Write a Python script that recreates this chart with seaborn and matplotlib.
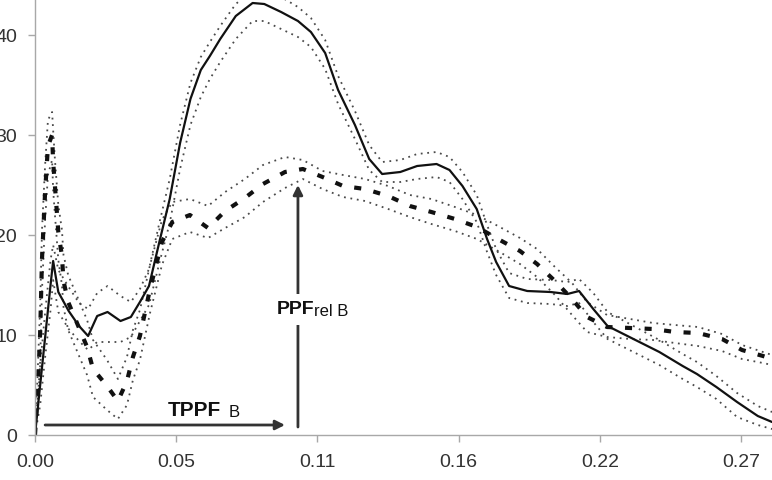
"""
Force profile: mean curves (solid A, dashed B) with dotted +/- SD bands
"""

import numpy as np
import matplotlib
matplotlib.use("Agg")
import matplotlib.pyplot as plt
import matplotlib.ticker as mticker
import seaborn as sns

# ---- data ----
# series A (solid line) : time [s], mean, upper SD, lower SD
a_x = [0.000, 0.002, 0.004, 0.006, 0.007, 0.009, 0.013, 0.017, 0.0205, 0.024,
       0.028, 0.033, 0.037, 0.0405, 0.044, 0.048, 0.052, 0.056, 0.060, 0.064,
       0.0675, 0.0715, 0.0775, 0.084, 0.0885, 0.095, 0.1015, 0.1065, 0.112, 0.117,
       0.1235, 0.129, 0.134, 0.141, 0.1475, 0.155, 0.160, 0.165, 0.1705, 0.1745,
       0.178, 0.183, 0.190, 0.199, 0.2055, 0.210, 0.2155, 0.221, 0.231, 0.241,
       0.250, 0.2555, 0.263, 0.271, 0.279, 0.2845]
a_mean = [0, 5, 10, 15, 17.4, 14.3, 12.4, 10.9, 9.9, 11.9,
          12.3, 11.4, 11.8, 13.3, 14.9, 19.3, 23.6, 29.2, 33.6, 36.5,
          37.9, 39.6, 41.9, 43.2, 43.1, 42.3, 41.4, 40.3, 38.2, 34.5,
          31.0, 27.6, 26.1, 26.3, 26.9, 27.1, 26.5, 24.9, 22.6, 19.6,
          17.3, 14.9, 14.4, 14.3, 14.1, 14.4, 12.6, 10.9, 9.6, 8.3,
          6.9, 6.1, 4.8, 3.3, 1.9, 1.3]
a_up = [0.3, 7, 12.5, 17.5, 19.0, 16.5, 14.8, 13.2, 12.6, 14.2,
        14.9, 13.9, 13.3, 14.6, 16.6, 21.2, 25.6, 31.0, 35.2, 37.8,
        39.3, 40.9, 43.1, 44.5, 44.6, 43.8, 42.8, 41.7, 39.5, 35.9,
        32.4, 29.0, 27.3, 27.5, 28.1, 28.3, 27.8, 26.3, 24.0, 21.0,
        18.6, 16.2, 15.6, 15.5, 15.3, 15.6, 14.2, 12.3, 10.9, 9.5,
        8.1, 7.3, 5.9, 4.2, 2.9, 2.3]
a_lo = [0, 3, 8, 12.5, 15.5, 12.3, 10.6, 9.4, 8.5, 9.3,
        9.3, 9.3, 9.8, 11.4, 13.0, 17.2, 21.2, 26.6, 31.0, 33.8,
        35.6, 37.3, 39.6, 41.4, 41.4, 40.6, 39.8, 38.8, 36.6, 33.1,
        29.6, 26.5, 25.3, 25.3, 25.6, 25.8, 25.3, 23.6, 21.3, 18.3,
        16.0, 13.7, 13.2, 13.1, 12.9, 13.2, 11.3, 9.6, 8.3, 7.0,
        5.6, 4.8, 3.6, 1.8, 1.0, 0.6]

# series B (thick dashed line)
b_x = [0.000, 0.001, 0.002, 0.0027, 0.0039, 0.005, 0.0066, 0.007, 0.0077, 0.009,
       0.0104, 0.011, 0.0128, 0.0201, 0.0224, 0.0278, 0.032, 0.0355, 0.0378, 0.0405,
       0.0444, 0.049, 0.053, 0.0598, 0.0668, 0.0734, 0.081, 0.088, 0.0965, 0.1034,
       0.111, 0.1189, 0.1274, 0.1363, 0.1447, 0.153, 0.1621, 0.1706, 0.1787, 0.1872,
       0.1938, 0.2007, 0.2073, 0.2131, 0.2208, 0.2297, 0.2386, 0.247, 0.2559, 0.2652,
       0.2729, 0.281, 0.2845]
b_mean = [0, 4, 10.3, 17.6, 24.3, 28.9, 30.0, 27.3, 24.9, 20.3,
          17.9, 15.4, 13.3, 8.8, 6.6, 4.9, 3.4, 5.4, 7.8, 9.9,
          14.6, 19.3, 21.3, 22.0, 20.7, 22.4, 23.7, 25.1, 26.3, 26.6,
          25.8, 24.9, 24.6, 23.9, 22.9, 22.3, 21.6, 20.8, 19.6, 18.4,
          17.1, 15.4, 13.6, 11.8, 10.8, 10.7, 10.6, 10.3, 10.2, 9.6,
          8.5, 7.9, 7.6]
b_up = [0.5, 6, 13, 20.5, 27, 31.5, 32.3, 30.5, 27.5, 23.0,
        20.5, 18.0, 16.0, 11.5, 9.5, 7.5, 5.6, 7.8, 10.5, 12.5,
        17.0, 21.5, 23.3, 23.6, 22.9, 24.3, 25.6, 27.0, 27.8, 27.5,
        26.4, 26.0, 25.6, 24.9, 24.0, 23.6, 22.8, 22.0, 20.9, 19.7,
        18.6, 16.8, 15.2, 13.3, 12.0, 11.6, 11.2, 11.0, 10.8, 10.1,
        9.0, 8.3, 8.0]
b_lo = [0, 2, 7.5, 14.5, 21.5, 26.0, 27.5, 24.5, 22.0, 17.5,
        15.0, 12.8, 10.5, 6.0, 3.8, 2.5, 1.6, 3.0, 5.5, 7.5,
        12.2, 17.0, 19.6, 20.3, 19.7, 20.7, 21.8, 23.3, 24.7, 25.6,
        24.6, 23.8, 23.4, 22.6, 21.8, 21.1, 20.4, 19.6, 18.4, 17.1,
        15.8, 14.0, 12.0, 10.3, 9.8, 9.6, 9.5, 9.2, 8.9, 8.4,
        7.6, 7.2, 7.0]

x_ticks = [0.0, 0.0545, 0.109, 0.1635, 0.218, 0.2725]
y_ticks = [0, 10, 20, 30, 40]

# annotation anchors (time to peak / relative peak of B)
tppf_start, tppf_end, tppf_y = 0.0039, 0.0965, 1.0
ppf_x, ppf_top = 0.1015, 25.0


sns.set_style("ticks")
plt.rcParams['font.family'] = ['Liberation Sans', 'DejaVu Sans']

fig = plt.figure(figsize=(7.72, 4.81), dpi=100)
# axes deliberately run past the top/right edges (the reference is a crop)
ax = fig.add_axes([35 / 772, 45 / 481, 750 / 772, 450 / 481])

dot = (0, (1.0, 2.6))
band_kw = dict(color='#4a4a4a', linewidth=1.3, linestyle=dot, ax=ax)

for band in (a_up, a_lo):
    sns.lineplot(x=a_x, y=band, **band_kw)
for band in (b_up, b_lo):
    sns.lineplot(x=b_x, y=band, **band_kw)

sns.lineplot(x=a_x, y=a_mean, color='#111111', linewidth=1.6, ax=ax)
sns.lineplot(x=b_x, y=b_mean, color='#111111', linewidth=3.0,
             linestyle=(0, (1.7, 3.0)), ax=ax)

# arrows
arrow_kw = dict(arrowstyle='-|>', color='#333333', lw=2.0, mutation_scale=14,
                shrinkA=0, shrinkB=0)
ax.annotate('', xy=(tppf_end, tppf_y), xytext=(tppf_start, tppf_y),
            arrowprops=arrow_kw)
ax.annotate('', xy=(ppf_x, ppf_top), xytext=(ppf_x, 0.8),
            arrowprops=arrow_kw)

# labels
ax.text(0.0513, 2.5, 'TPPF', fontsize=15, fontweight='bold',
        color='#111111', va='center', ha='left')
ax.text(0.0748, 2.35, 'B', fontsize=12, color='#111111',
        va='center', ha='left')
ax.text(0.0932, 12.6, 'PPF', fontsize=14, fontweight='bold', color='#111111',
        va='center', ha='left',
        bbox=dict(facecolor='white', edgecolor='none', pad=5))
ax.text(0.1077, 12.45, 'rel B', fontsize=12, color='#111111',
        va='center', ha='left')

ax.set_xlim(0, 0.2895)
ax.set_ylim(0, 45)
ax.set_xticks(x_ticks)
ax.xaxis.set_major_formatter(mticker.FormatStrFormatter('%.2f'))
ax.set_yticks(y_ticks)
ax.set_xlabel('')
ax.set_ylabel('')

for side in ('top', 'right'):
    ax.spines[side].set_visible(False)
for side in ('left', 'bottom'):
    ax.spines[side].set_color('#a8a8a8')
    ax.spines[side].set_linewidth(1.0)

ax.tick_params(axis='both', colors='#a8a8a8', length=5, width=1.0,
               labelsize=14, labelcolor='#333333')
ax.tick_params(axis='x', pad=8)
ax.tick_params(axis='y', pad=8)

fig.savefig('out.png', dpi=100)
plt.close(fig)
